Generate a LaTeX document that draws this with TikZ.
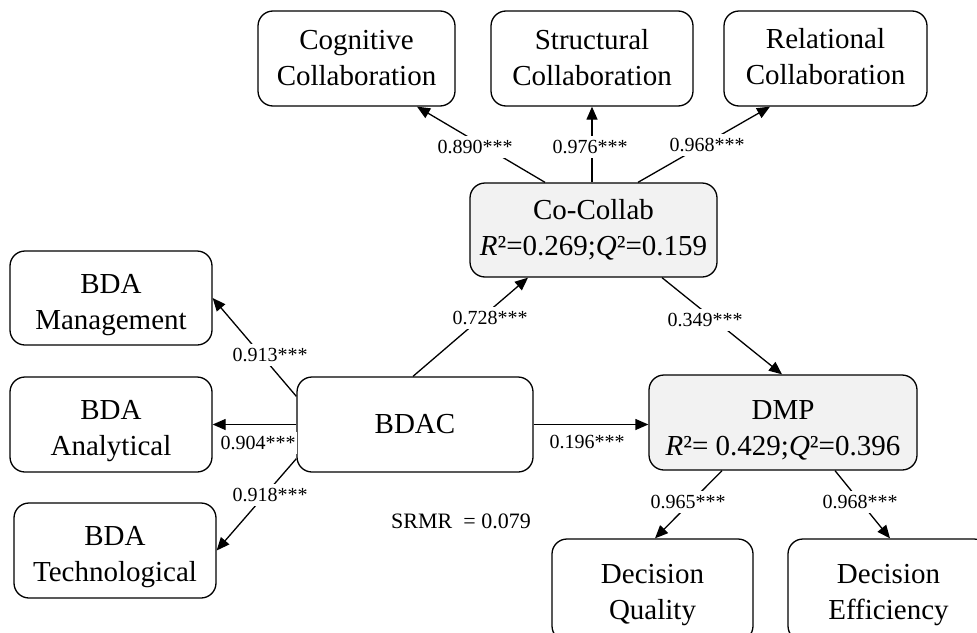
\documentclass[tikz,border=0pt]{standalone}
\usepackage{fontspec}
\setmainfont{Liberation Serif}
\usetikzlibrary{arrows.meta,calc}
\definecolor{lightfill}{RGB}{242,242,242}
\newcommand\tstr[1]{\rule{0pt}{#1pt}}
\newcommand\bstr{\rule[-8pt]{0pt}{8pt}}
\begin{document}
\begin{tikzpicture}[x=1pt,y=-1pt,
  box/.style={draw, line width=1.3pt, rounded corners=15pt, align=center, inner sep=0pt, font=\fontsize{29}{36}\selectfont},
  latent/.style={box, fill=lightfill},
  lbl/.style={fill=white, inner xsep=1pt, inner ysep=4pt, font=\fontsize{20}{21}\selectfont},
  arr/.style={line width=1.3pt, -{Triangle[length=13pt,width=11pt]}},
]
\useasboundingbox (0,0) rectangle (977,632);
\clip (0,0) rectangle (977,632);

% indicator boxes
\node[box, minimum width=197pt, minimum height=95pt] (cog) at (356.5,58.5) {\tstr{26}Cognitive\\Collaboration\bstr};
\node[box, minimum width=202pt, minimum height=95pt] (str) at (592,58.5) {\tstr{26}Structural\\Collaboration\bstr};
\node[box, minimum width=203pt, minimum height=95pt] (rel) at (825.5,58.5) {\tstr{24}Relational\\Collaboration\bstr};
\node[box, minimum width=202pt, minimum height=94pt] (mgmt) at (111,298) {\tstr{34}BDA\\Management\bstr};
\node[box, minimum width=202pt, minimum height=95pt] (anal) at (111,424.5) {\tstr{34}BDA\\Analytical\bstr};
\node[box, minimum width=202pt, minimum height=95pt] (tech) at (115,550.5) {\tstr{34}BDA\\Technological\bstr};
\node[box, minimum width=201pt, minimum height=102pt] (dq) at (652.5,590) {\tstr{30}Decision\\Quality\bstr};
\node[box, minimum width=201pt, minimum height=102pt] (de) at (888.5,590) {\tstr{30}Decision\\Efficiency\bstr};

% constructs
\node[latent, minimum width=247pt, minimum height=94pt] (co) at (593.5,230) {\tstr{23}Co-Collab\\\textit{R}²=0.269;\textit{Q}²=0.159\bstr};
\node[box, minimum width=236pt, minimum height=95pt] (bdac) at (415,424.5) {BDAC};
\node[latent, minimum width=268pt, minimum height=95pt] (dmp) at (783,422.5) {\tstr{38}DMP\\\textit{R}²= 0.429;\textit{Q}²=0.396\bstr};

% connectors
\draw[arr] ([yshift=-20pt]bdac.north west) -- (mgmt.east);
\draw[arr] (bdac.west) -- (anal.east);
\draw[arr] ([yshift=14pt]bdac.south west) -- (tech.east);
\draw[arr] (bdac.east) -- (bdac.east -| dmp.west);
\draw[arr] ([xshift=-2pt]bdac.north) -- ([xshift=-65.5pt]co.south);
\draw[arr] ([xshift=68.5pt]co.south) -- ([xshift=-1pt]dmp.north);
\draw[arr] ([xshift=-48.5pt]co.north) -- ([xshift=60.5pt]cog.south);
\draw[arr] (str.south |- co.north) -- (str.south);
\draw[arr] ([xshift=44.5pt]co.north) -- ([xshift=-55.5pt]rel.south);
\draw[arr] ([xshift=-61pt]dmp.south) -- ([xshift=2.5pt]dq.north);
\draw[arr] ([xshift=52pt]dmp.south) -- ([xshift=1.5pt]de.north);

% loadings / path coefficients
\node[lbl] (l1) at (270,355) {0.913***};
\node[lbl] (l2) at (258,443) {0.904***};
\node[lbl] (l3) at (270,495) {0.918***};
\node[lbl] (l4) at (587,442) {0.196***};
\node[lbl] (l5) at (490,318) {0.728***};
\node[lbl] (l6) at (705,320) {0.349***};
\node[lbl] (l7) at (475,147) {0.890***};
\node[lbl] (l8) at (590,147) {0.976***};
\node[lbl] (l9) at (707,145) {0.968***};
\node[lbl] (l10) at (688,502) {0.965***};
\node[lbl] (l11) at (860,502) {0.968***};

\node[font=\fontsize{22}{24}\selectfont, inner sep=0pt] (srmr) at (461,521) {SRMR\ \ = 0.079};
\end{tikzpicture}
\end{document}
